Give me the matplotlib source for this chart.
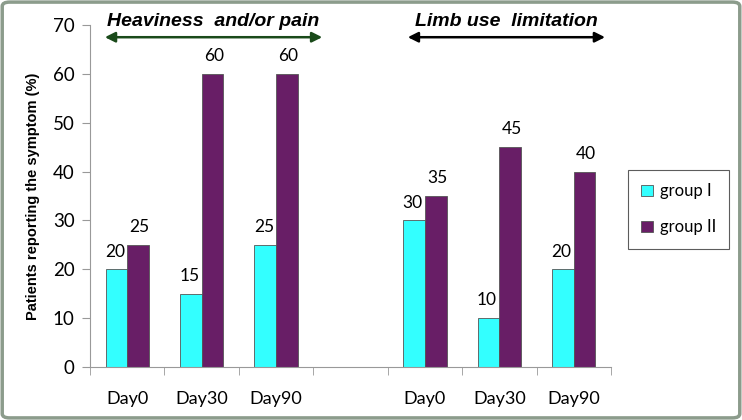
import matplotlib
matplotlib.use("Agg")
import matplotlib.pyplot as plt
from matplotlib.patches import FancyBboxPatch
import numpy as np

# data
days = ["Day0", "Day30", "Day90", "", "Day0", "Day30", "Day90"]
group1 = [20, 15, 25, None, 30, 10, 20]
group2 = [25, 60, 60, None, 35, 45, 40]
series_names = ["group I", "group II"]
sections = ["Heaviness  and/or pain", "Limb use  limitation"]

cyan = "#33FFFF"
purple = "#681E66"
tick_font = "Lato"

fig = plt.figure(figsize=(7.42, 4.2), dpi=100)
ax = fig.add_axes([90 / 742, 1 - 367 / 420, (611 - 90) / 742, (367 - 25) / 420])

x = np.arange(len(days))
w = 0.29
for i, (a, b) in enumerate(zip(group1, group2)):
    if a is None:
        continue
    ax.bar(x[i] - w / 2, a, w, color=cyan, edgecolor="#555555", linewidth=0.6,
           label=series_names[0] if i == 0 else None)
    ax.bar(x[i] + w / 2, b, w, color=purple, edgecolor="#555555", linewidth=0.6,
           label=series_names[1] if i == 0 else None)
    ax.text(x[i] - w / 2 - 0.02, a + 2.0, str(a), ha="center", va="bottom",
            fontsize=12.5, family=tick_font)
    ax.text(x[i] + w / 2 + 0.02, b + 2.0, str(b), ha="center", va="bottom",
            fontsize=12.5, family=tick_font)

ax.set_xlim(-0.5, len(days) - 0.5)
ax.set_ylim(0, 70)
ax.set_yticks(range(0, 71, 10))
ax.set_xticks(x)
ax.set_xticklabels(days, family=tick_font, fontsize=13)
ax.set_xticks(np.arange(-0.5, len(days), 1), minor=True)
ax.tick_params(axis="x", which="major", length=0, pad=17)
ax.tick_params(axis="x", which="minor", length=6, color="#999999")
ax.tick_params(axis="y", length=6, color="#999999", labelsize=13.5, pad=5)
for lab in ax.get_yticklabels():
    lab.set_family(tick_font)

for s in ["top", "right"]:
    ax.spines[s].set_visible(False)
ax.spines["left"].set_color("#999999")
ax.spines["bottom"].set_color("#999999")

ax.set_ylabel("Patients reporting the symptom (%)", fontsize=10.5, fontweight="bold",
              family="Liberation Sans", labelpad=9)

leg = ax.legend(loc="upper left", bbox_to_anchor=(628 / 742, 1 - 170 / 420),
                bbox_transform=fig.transFigure, frameon=True,
                fancybox=False, edgecolor="#333333", handlelength=0.7,
                handleheight=0.7, handletextpad=0.4, labelspacing=1.2,
                borderpad=0.8, borderaxespad=0,
                prop={"family": tick_font, "size": 12})
leg.get_frame().set_linewidth(0.8)

# section arrows with titles
arrow_specs = [(-0.30, 2.62, "#1A4A1A"), (3.77, 6.42, "black")]
for (x0, x1, col), name in zip(arrow_specs, sections):
    ax.annotate("", xy=(x0, 67.5), xytext=(x1, 67.5), xycoords="data",
                annotation_clip=False,
                arrowprops=dict(arrowstyle="<|-|>", color=col, lw=1.8,
                                mutation_scale=15, shrinkA=0, shrinkB=0))
    ax.text((x0 + x1) / 2, 70.8, name, ha="center", va="center", fontsize=14,
            fontweight="bold", style="italic", family="Liberation Sans",
            clip_on=False)

# outer frame
frame = FancyBboxPatch((0.003, 0.005), 0.994, 0.99, boxstyle="round,pad=0,rounding_size=0.01",
                       transform=fig.transFigure, facecolor="none",
                       edgecolor="#8C9C8C", linewidth=2.5)
fig.patches.append(frame)

fig.savefig("out.png", dpi=100)
